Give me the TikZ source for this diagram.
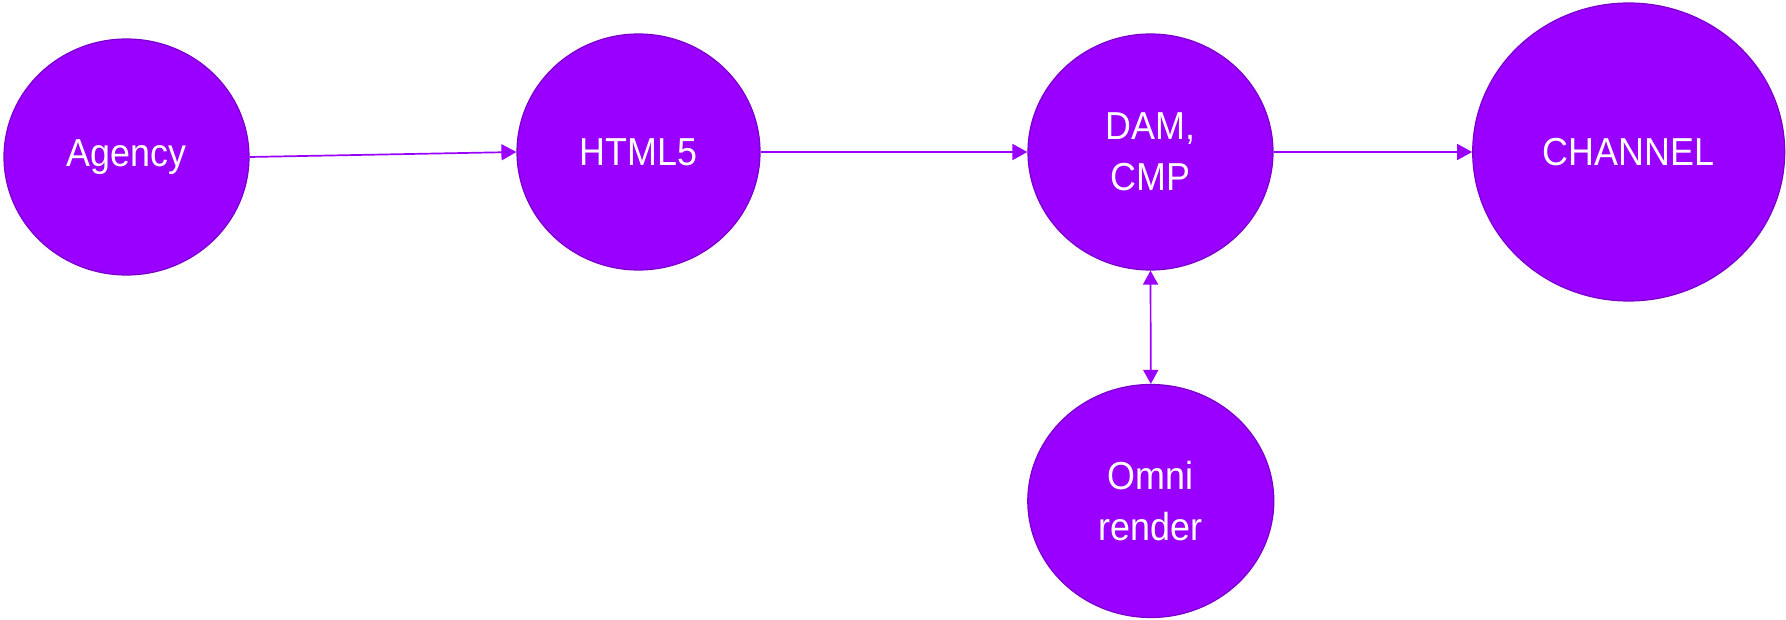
\documentclass[tikz,border=0pt]{standalone}
\usepackage{fontspec}
\newfontfamily\cellfont[FakeStretch=0.92]{Liberation Sans}
\usetikzlibrary{shapes.geometric, arrows.meta}
\definecolor{violetfill}{HTML}{9900FF}
\definecolor{violetline}{HTML}{7A00CC}

\begin{document}
\begin{tikzpicture}[
        x=1pt, y=-1pt, % Координаты в пикселях
        cell/.style={ellipse, draw=violetline, fill=violetfill, line width=1.2pt, inner sep=0pt,
                text=white, align=center, font=\cellfont\fontsize{39}{51}\selectfont}, % Стиль узлов
        link/.style={draw=violetfill, line width=1.7pt, -{Triangle[length=15pt, width=16pt]}},
        both/.style={draw=violetfill, line width=1.7pt, {Triangle[length=14pt, width=15pt]}-{Triangle[length=14pt, width=15pt]}},
    ]
    \useasboundingbox (0,0) rectangle (1786,620);

    \node[cell, minimum width=245pt, minimum height=236pt] (agency) at (126.5,157) {Agency};
    \node[cell, minimum width=243pt, minimum height=236pt] (html) at (638.5,152) {HTML5};
    \node[cell, minimum width=245pt, minimum height=236pt] (dam) at (1150.5,152) {DAM,\\CMP};
    \node[cell, minimum width=312pt, minimum height=298pt] (channel) at (1628.7,152) {CHANNEL};
    \node[cell, minimum width=246pt, minimum height=233pt] (omni) at (1150.8,501) {Omni\\render};

    \draw[link] (agency.east) -- (html.west);
    \draw[link] (html.east) -- (dam.west);
    \draw[link] (dam.east) -- (channel.west);
    \draw[both] (dam.south) -- (omni.north);
\end{tikzpicture}
\end{document}
